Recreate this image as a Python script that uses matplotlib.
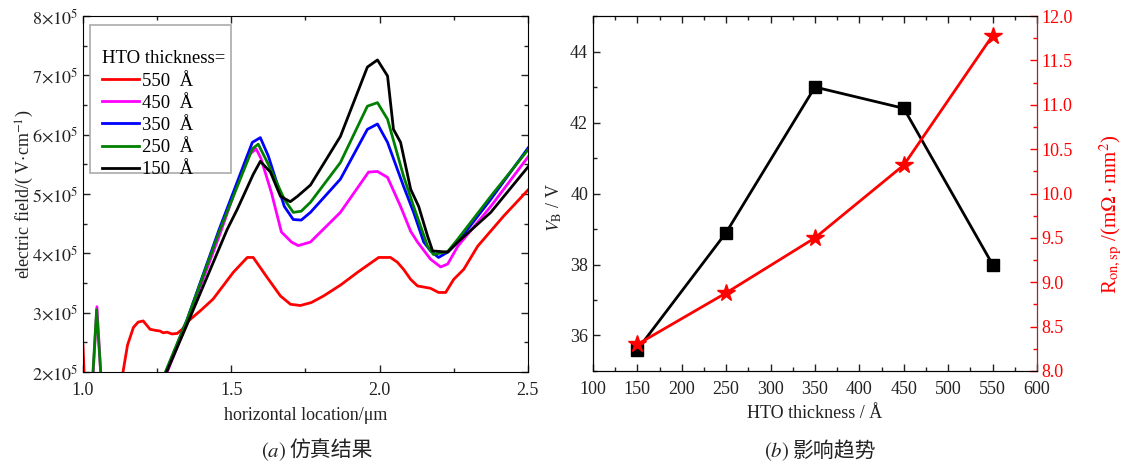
import matplotlib.pyplot as plt
import numpy as np
from matplotlib.ticker import MultipleLocator, FixedLocator
from matplotlib.patches import Rectangle

plt.rcParams['font.family'] = ['Liberation Serif', 'Noto Sans CJK SC']
plt.rcParams['mathtext.fontset'] = 'stix'
plt.rcParams['xtick.direction'] = 'in'
plt.rcParams['ytick.direction'] = 'in'

# (a) electric field along the device, values in 1e5 V/cm
x550 = [1.000, 1.006, 1.125, 1.150, 1.170, 1.186, 1.203, 1.226, 1.245, 1.260, 1.270, 1.284, 1.300,
        1.318, 1.335, 1.351, 1.400, 1.439, 1.507, 1.554, 1.574, 1.620, 1.666, 1.700, 1.733, 1.770,
        1.811, 1.870, 1.926, 1.997, 2.037, 2.060, 2.081, 2.105, 2.128, 2.172, 2.199, 2.223, 2.250,
        2.284, 2.331, 2.419, 2.503]
e550 = [2.45, 1.70, 1.70, 2.45, 2.75, 2.84, 2.86, 2.72, 2.70, 2.69, 2.66, 2.67, 2.64,
        2.65, 2.72, 2.84, 3.05, 3.23, 3.68, 3.93, 3.93, 3.60, 3.28, 3.14, 3.12, 3.17,
        3.28, 3.47, 3.68, 3.93, 3.93, 3.85, 3.73, 3.56, 3.45, 3.41, 3.34, 3.34, 3.56,
        3.73, 4.12, 4.63, 5.08]

x450 = [1.030, 1.047, 1.064, 1.265, 1.284, 1.351, 1.460, 1.554, 1.584, 1.600, 1.635, 1.669, 1.703,
        1.726, 1.767, 1.868, 1.963, 1.993, 2.027, 2.071, 2.105, 2.128, 2.172, 2.206, 2.230, 2.264,
        2.375, 2.503]
e450 = [1.60, 3.10, 1.60, 1.80, 2.00, 2.84, 4.30, 5.64, 5.76, 5.60, 5.03, 4.36, 4.19,
        4.13, 4.19, 4.69, 5.37, 5.38, 5.28, 4.79, 4.37, 4.19, 3.90, 3.77, 3.82, 4.12,
        4.79, 5.64]

x350 = [1.262, 1.280, 1.351, 1.459, 1.571, 1.598, 1.625, 1.679, 1.709, 1.736, 1.767, 1.868, 1.959,
        1.993, 2.027, 2.081, 2.115, 2.149, 2.172, 2.199, 2.230, 2.264, 2.375, 2.503]
e350 = [1.80, 2.00, 2.88, 4.40, 5.87, 5.95, 5.64, 4.79, 4.57, 4.56, 4.69, 5.25, 6.09,
        6.18, 5.87, 5.13, 4.69, 4.19, 4.04, 3.93, 4.02, 4.19, 4.91, 5.79]

x250 = [1.029, 1.046, 1.065, 1.262, 1.278, 1.351, 1.459, 1.571, 1.591, 1.625, 1.679, 1.709, 1.736,
        1.767, 1.868, 1.959, 1.993, 2.027, 2.081, 2.115, 2.162, 2.182, 2.230, 2.264, 2.375, 2.503]
e250 = [1.60, 3.05, 1.60, 1.80, 2.00, 2.88, 4.36, 5.76, 5.84, 5.50, 4.91, 4.69, 4.71,
        4.86, 5.53, 6.48, 6.54, 6.26, 5.30, 4.79, 4.12, 3.98, 4.03, 4.24, 4.96, 5.76]

x150 = [1.265, 1.282, 1.351, 1.486, 1.520, 1.574, 1.598, 1.632, 1.666, 1.699, 1.723, 1.767, 1.868,
        1.959, 1.993, 2.027, 2.047, 2.071, 2.105, 2.132, 2.162, 2.179, 2.230, 2.264, 2.375, 2.503]
e150 = [1.80, 2.00, 2.80, 4.40, 4.74, 5.33, 5.55, 5.37, 4.96, 4.87, 4.96, 5.15, 5.97,
        7.14, 7.26, 6.99, 6.09, 5.87, 5.08, 4.79, 4.29, 4.04, 4.02, 4.19, 4.69, 5.47]

curve_labels = ['550  Å', '450  Å', '350  Å', '250  Å', '150  Å']
curve_colors = ['#ff0000', '#ff00ff', '#0000ff', '#008000', '#000000']

# (b) trends vs HTO thickness
thickness = [150, 250, 350, 450, 550]
vb = [35.6, 38.9, 43.0, 42.4, 38.0]
ron = [8.30, 8.88, 9.50, 10.32, 11.78]

fig = plt.figure(figsize=(11.23, 4.72), dpi=100)
ax1 = fig.add_axes([0.0739, 0.212, 0.3961, 0.754])
ax2 = fig.add_axes([0.528, 0.214, 0.3954, 0.752])

curves = [(x550, e550), (x450, e450), (x350, e350), (x250, e250), (x150, e150)]
for (xs, es), lab, c in zip(curves, curve_labels, curve_colors):
    ax1.plot(xs, np.array(es) * 1e5, color=c, lw=2, label=lab)

ax1.set_xlim(1.0, 2.5)
ax1.set_ylim(2e5, 8e5)
ax1.xaxis.set_major_locator(FixedLocator([1.0, 1.5, 2.0, 2.5]))
ax1.xaxis.set_minor_locator(MultipleLocator(0.25))
ax1.yaxis.set_major_locator(MultipleLocator(1e5))
ax1.yaxis.set_minor_locator(MultipleLocator(0.5e5))
ax1.set_yticklabels([r'$%d{\times}10^{5}$' % v for v in ax1.get_yticks() / 1e5])
ax1.set_xticklabels(['1.0', '1.5', '2.0', '2.5'])
ax1.tick_params(which='both', top=True, right=True, labelsize=13, colors='#222222')
ax1.tick_params(which='major', length=5, width=1)
ax1.tick_params(which='minor', length=3, width=1)
ax1.tick_params(axis='x', pad=7)
ax1.set_xlabel('horizontal location/μm', fontsize=13, color='#222222', labelpad=6)
ax1.set_ylabel(r'electric field/( V$\cdot$cm$^{-1}$)', fontsize=13, color='#222222', labelpad=-3)

# legend frame is drawn separately: the original box has extra room above the title
ax1.add_patch(Rectangle((0.0157, 0.559), 0.318, 0.416, transform=ax1.transAxes,
                        fill=True, facecolor='white', edgecolor='#aaaaaa', lw=1.2, zorder=4))
leg = ax1.legend(loc='upper left', title='HTO thickness=', fontsize=13.5, title_fontsize=13.5,
                 frameon=False, handlelength=2.0, handletextpad=0.15, labelspacing=0.27,
                 borderpad=0.5, borderaxespad=0, bbox_to_anchor=(0.0215, 0.93))
leg._legend_box.align = 'left'
leg.set_zorder(5)

ax2.plot(thickness, vb, color='black', lw=2, marker='s', ms=9)
ax2.set_xlim(100, 600)
ax2.set_ylim(35, 45)
ax2.xaxis.set_major_locator(MultipleLocator(50))
ax2.xaxis.set_minor_locator(MultipleLocator(25))
ax2.yaxis.set_major_locator(FixedLocator([36, 38, 40, 42, 44]))
ax2.yaxis.set_minor_locator(MultipleLocator(1))
ax2.tick_params(which='both', top=True, labelsize=13, colors='#222222')
ax2.tick_params(which='major', length=5, width=1)
ax2.tick_params(which='minor', length=3, width=1)
ax2.tick_params(axis='x', pad=7)
ax2.set_xlabel('HTO thickness / Å', fontsize=13, color='#222222', labelpad=5)
ax2.set_ylabel(r'$V_{\mathrm{B}}$ / V', fontsize=13, color='#222222')
ax2.yaxis.set_label_coords(-0.066, 0.46)

ax3 = ax2.twinx()
ax3.plot(thickness, ron, color='#ff0000', lw=2, marker='*', ms=13)
ax3.set_ylim(8.0, 12.0)
ax3.yaxis.set_major_locator(MultipleLocator(0.5))
ax3.yaxis.set_minor_locator(MultipleLocator(0.25))
ax3.yaxis.set_major_formatter(plt.FormatStrFormatter('%.1f'))
ax3.tick_params(which='both', labelsize=13, colors='#ff0000', direction='in')
ax3.tick_params(which='major', length=5, width=1)
ax3.tick_params(which='minor', length=3, width=1)
ax3.spines['right'].set_color('#ff0000')
ax3.set_ylabel(r'R$_{\mathrm{on,sp}}$ /(m$\Omega\cdot$mm$^{2}$)', fontsize=15, color='#ff0000')
ax3.yaxis.set_label_coords(1.137, 0.44)

# captions: latin part via mathtext, Chinese part as plain text
fig.text(0.2545, 0.032, r'$(a)$', fontsize=15, ha='right', color='#222222')
fig.text(0.2575, 0.032, '仿真结果', fontsize=15, ha='left', color='#222222',
         family=['Noto Sans CJK SC'])
fig.text(0.7026, 0.032, r'$(b)$', fontsize=15, ha='right', color='#222222')
fig.text(0.7056, 0.032, '影响趋势', fontsize=15, ha='left', color='#222222',
         family=['Noto Sans CJK SC'])

fig.savefig('out.png', dpi=100)
